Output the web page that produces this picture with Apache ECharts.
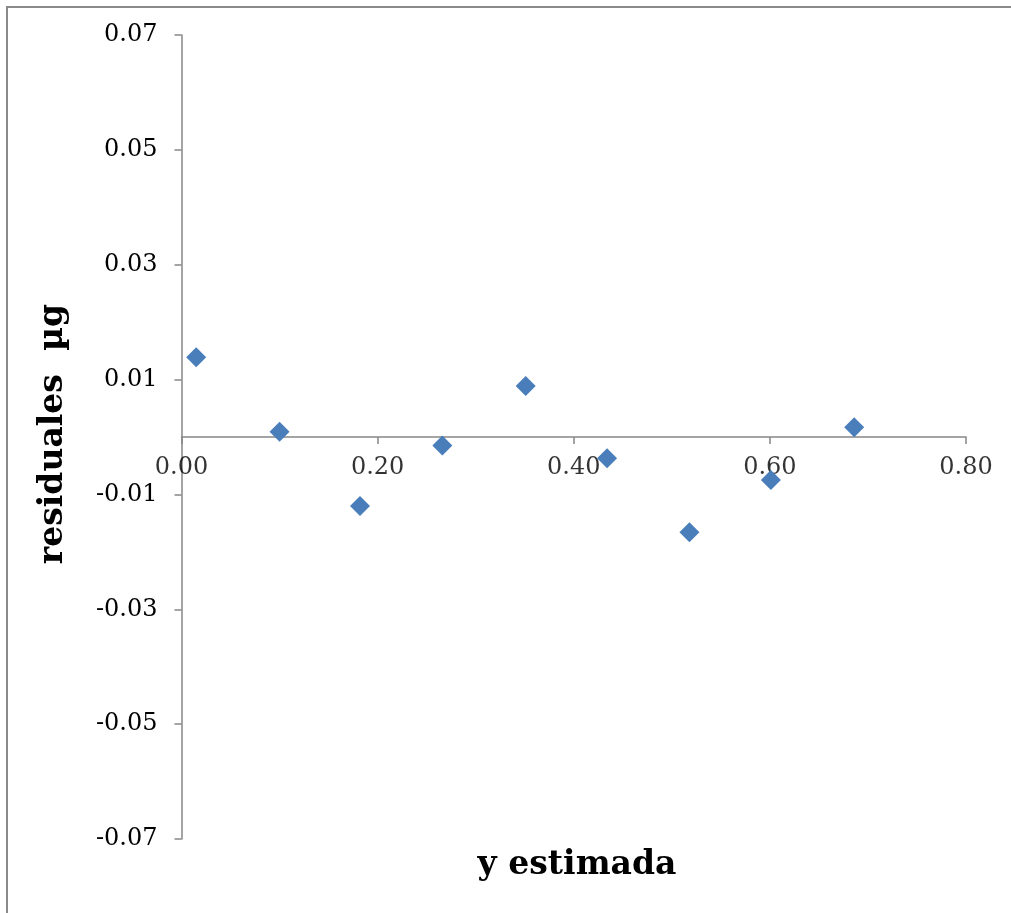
<!DOCTYPE html>
<html>
<head>
<meta charset="utf-8">
<title>residuales vs y estimada</title>
<script src="https://cdn.jsdelivr.net/npm/echarts@6/dist/echarts.min.js"></script>
<style>
  html, body { margin: 0; padding: 0; background: #fff; }
  #chart { width: 1011px; height: 913px; }
</style>
</head>
<body>
<div id="chart"></div>
<script>
// Estimated y (µg) and residuals of the calibration fit
const yEstimada = [0.015, 0.100, 0.182, 0.266, 0.351, 0.434, 0.518, 0.601, 0.686];
const residuales = [0.0139, 0.0009, -0.0120, -0.0015, 0.0089, -0.0037, -0.0166, -0.0075, 0.0017];

// Axis settings
const xTicks = { min: 0, max: 0.8, step: 0.2 };
const yTicks = { min: -0.07, max: 0.07, step: 0.02 };
const xTickValues = [0, 0.2, 0.4, 0.6, 0.8];

const xTitle = 'y estimada';
const yTitle = 'residuales  µg';

const FONT = "'DejaVu Serif', 'Liberation Serif', serif";
const AXIS_COLOR = '#868686';
const TICK_FONT_SIZE = 24;

const chart = echarts.init(document.getElementById('chart'), null, { renderer: 'canvas' });

chart.setOption({
  animation: false,
  backgroundColor: '#ffffff',
  grid: { left: 181.5, right: 45, top: 35, bottom: 74 },
  xAxis: {
    type: 'value',
    min: xTicks.min,
    max: xTicks.max,
    interval: xTicks.step,
    axisLine: { onZero: true, lineStyle: { color: AXIS_COLOR, width: 1.5 } },
    axisTick: { show: true, inside: false, length: 7, lineStyle: { color: AXIS_COLOR, width: 1.5 } },
    // labels are drawn at the zero line by the helper series below
    axisLabel: { show: false },
    splitLine: { show: false }
  },
  yAxis: {
    type: 'value',
    min: yTicks.min,
    max: yTicks.max,
    interval: yTicks.step,
    axisLine: { show: true, onZero: false, lineStyle: { color: AXIS_COLOR, width: 1.5 } },
    axisTick: { show: true, inside: false, length: 7, lineStyle: { color: AXIS_COLOR, width: 1.5 } },
    axisLabel: {
      margin: 24,
      color: '#000',
      fontFamily: FONT,
      fontSize: TICK_FONT_SIZE,
      formatter: v => v.toFixed(2)
    },
    splitLine: { show: false }
  },
  series: [
    {
      // x tick labels placed under the axis line at y = 0
      type: 'scatter',
      symbol: 'circle',
      symbolSize: 1,
      silent: true,
      z: 1,
      itemStyle: { color: 'rgba(0,0,0,0)' },
      label: {
        show: true,
        position: 'bottom',
        distance: 18,
        color: '#000',
        fontFamily: FONT,
        fontSize: TICK_FONT_SIZE,
        formatter: p => p.value[0].toFixed(2)
      },
      data: xTickValues.map(v => [v, 0])
    },
    {
      type: 'scatter',
      symbol: 'diamond',
      symbolSize: [20, 20],
      itemStyle: { color: '#4a7ebb', opacity: 1 },
      z: 3,
      data: yEstimada.map((x, i) => [x, residuales[i]])
    }
  ],
  graphic: [
    {
      type: 'rect',
      shape: { x: 7, y: 7, width: 1200, height: 1200 },
      style: { fill: 'none', stroke: '#8a8a8a', lineWidth: 2 },
      silent: true
    },
    {
      type: 'text',
      x: 577,
      y: 865,
      style: {
        text: xTitle,
        fill: '#000',
        font: "bold 33px " + FONT,
        textAlign: 'center',
        textVerticalAlign: 'middle'
      }
    },
    {
      type: 'text',
      rotation: Math.PI / 2,
      x: 53,
      y: 434,
      style: {
        text: yTitle,
        fill: '#000',
        font: "bold 33px " + FONT,
        textAlign: 'center',
        textVerticalAlign: 'middle'
      }
    }
  ]
});
</script>
</body>
</html>
